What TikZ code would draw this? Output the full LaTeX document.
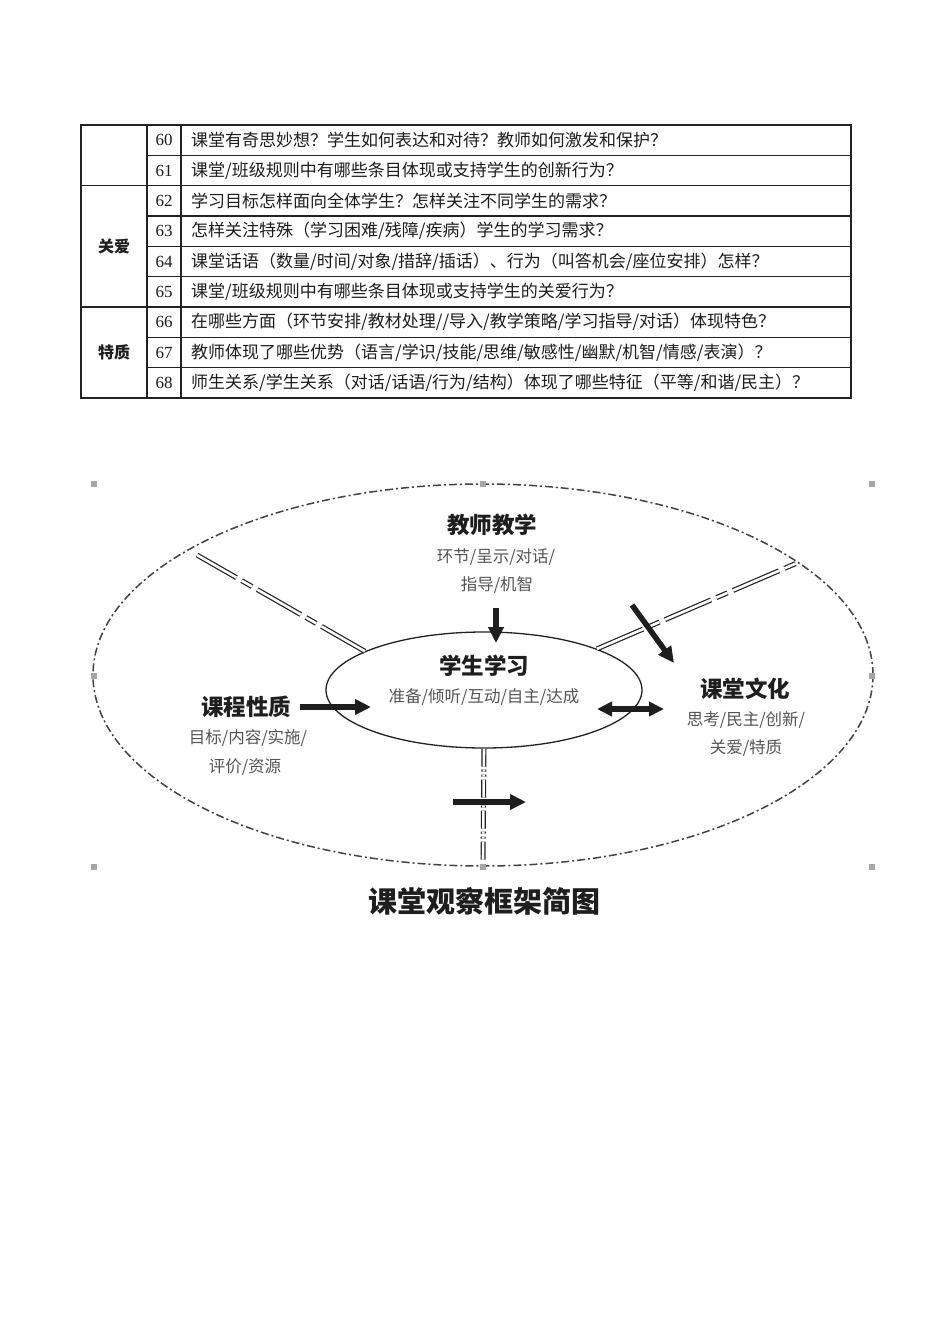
\documentclass[tikz,border=0pt]{standalone}
\usepackage{fontspec}
\setmainfont{Noto Sans CJK SC}
\newfontfamily\numfont{Liberation Serif}
\usetikzlibrary{arrows.meta,shapes.geometric}
\definecolor{obInk}{HTML}{1E1E1E}
\definecolor{obGray}{HTML}{555555}
\definecolor{obRule}{HTML}{222222}
\definecolor{obHandle}{HTML}{A6A6A6}
\tikzset{
  cellline/.style={line width=1.3pt, obRule},
  cellframe/.style={line width=1.8pt, obRule},
  celltext/.style={anchor=west, inner sep=0pt, font=\fontsize{17}{17}\selectfont, text=obInk},
  cellnum/.style={inner sep=0pt, font=\numfont\fontsize{17}{17}\selectfont, text=obInk},
  cellhead/.style={inner sep=0pt, font=\bfseries\fontsize{16}{16}\selectfont, text=obInk},
  obtitle/.style={inner sep=0pt, font=\bfseries\fontsize{22.5}{22.5}\selectfont, text=obInk},
  obsub/.style={inner sep=0pt, font=\fontsize{16.5}{16.5}\selectfont, text=obGray},
  obcaption/.style={inner sep=0pt, font=\bfseries\fontsize{29}{29}\selectfont, text=obInk},
  outerring/.style={draw=obRule!85, line width=1.5pt, ellipse, inner sep=0pt,
    dash pattern=on 8pt off 3pt on 2pt off 3pt},
  innerring/.style={draw=obRule, line width=1.3pt, ellipse, inner sep=0pt},
  dblline/.style={draw=obRule, line width=1.2pt, double=white, double distance=2.6pt,
    dash pattern=on 50pt off 6pt on 12pt off 6pt},
  dblvline/.style={dblline, dash pattern=on 18pt off 3pt on 2pt off 3pt on 2pt off 3pt},
  bigarrow/.style={-{Triangle[length=16pt,width=15pt]}, line width=5.5pt, obInk},
  twoarrow/.style={{Triangle[length=15pt,width=14pt]}-{Triangle[length=15pt,width=14pt]},
    line width=5.5pt, obInk},
  handle/.style={fill=obHandle, minimum size=6pt, inner sep=0pt}
}
\begin{document}
\begin{tikzpicture}[x=1pt, y=-1pt]
  \useasboundingbox[fill=white] (0,0) rectangle (950,1344);

  % table of questions
  \foreach \k in {0,...,9}
    \draw[cellline] (147,{125+\k*30.333}) -- (851,{125+\k*30.333});
  \foreach \k in {2,6}
    \draw[cellline] (81,{125+\k*30.333}) -- (147,{125+\k*30.333});
  \draw[cellline] (147,125) -- (147,398);
  \draw[cellline] (181,125) -- (181,398);
  \draw[cellframe] (81,125) rectangle (851,398);
  \foreach \t [count=\i] in {
    {课堂有奇思妙想？学生如何表达和对待？教师如何激发和保护？},
    {课堂/班级规则中有哪些条目体现或支持学生的创新行为？},
    {学习目标怎样面向全体学生？怎样关注不同学生的需求？},
    {怎样关注特殊（学习困难/残障/疾病）学生的学习需求？},
    {课堂话语（数量/时间/对象/措辞/插话）、行为（叫答机会/座位安排）怎样？},
    {课堂/班级规则中有哪些条目体现或支持学生的关爱行为？},
    {在哪些方面（环节安排/教材处理//导入/教学策略/学习指导/对话）体现特色？},
    {教师体现了哪些优势（语言/学识/技能/思维/敏感性/幽默/机智/情感/表演）？},
    {师生关系/学生关系（对话/话语/行为/结构）体现了哪些特征（平等/和谐/民主）？}}
  {
    \node[cellnum] (n\i) at (164,{125+(\i-0.5)*30.333}) {\the\numexpr59+\i\relax};
    \node[celltext] (q\i) at (191,{125+(\i-0.5)*30.333}) {\t};
  }
  \node[cellhead] (care) at (114,246) {关爱};
  \node[cellhead] (trait) at (114,352) {特质};

  % framework diagram
  \node[outerring, minimum width=780pt, minimum height=382pt] (ring) at (483,675) {};
  \node[innerring, minimum width=316pt, minimum height=116pt] (learn) at (484,690) {};
  \node[obtitle] (learnT) at (484,666) {学生学习};
  \node[obsub] (learnS) at (484,697) {准备/倾听/互动/自主/达成};

  \node[obtitle] (teachT) at (492,525) {教师教学};
  \node[obsub] (teachS1) at (496,557) {环节/呈示/对话/};
  \node[obsub] (teachS2) at (497,585) {指导/机智};

  \node[obtitle] (courseT) at (246,707) {课程性质};
  \node[obsub] (courseS1) at (248,738) {目标/内容/实施/};
  \node[obsub] (courseS2) at (245,767) {评价/资源};

  \node[obtitle] (cultT) at (745,689) {课堂文化};
  \node[obsub] (cultS1) at (746,720) {思考/民主/创新/};
  \node[obsub] (cultS2) at (746,748) {关爱/特质};

  \node[obcaption] (caption) at (484,901) {课堂观察框架简图};

  % double boundary lines
  \coordinate (ulEnd) at (197,555);
  \coordinate (urEnd) at (797,563);
  \coordinate (dnEnd) at (483,860);
  \draw[dblline] (learn.162) -- (ulEnd);
  \draw[dblline] (learn.20) -- (urEnd);
  \draw[dblvline] (learn.south) -- (dnEnd);

  % arrows
  \coordinate (teachA) at (496,608);
  \coordinate (teachB) at (496,643);
  \coordinate (courseA) at (300,707);
  \coordinate (courseB) at (371,707);
  \coordinate (cultA) at (597,709);
  \coordinate (cultB) at (664,709);
  \coordinate (diagA) at (632,605);
  \coordinate (diagB) at (674,663);
  \coordinate (lowA) at (453,802);
  \coordinate (lowB) at (526,802);
  \draw[bigarrow] (teachA) -- (teachB);
  \draw[bigarrow] (courseA) -- (courseB);
  \draw[twoarrow] (cultA) -- (cultB);
  \draw[bigarrow] (diagA) -- (diagB);
  \draw[bigarrow] (lowA) -- (lowB);

  % selection handles
  \foreach \hx/\hy [count=\h] in {94/484, 483/484, 872/484, 94/676, 872/676, 94/867, 483/867, 872/867}
    \node[handle] (h\h) at (\hx,\hy) {};
\end{tikzpicture}
\end{document}
